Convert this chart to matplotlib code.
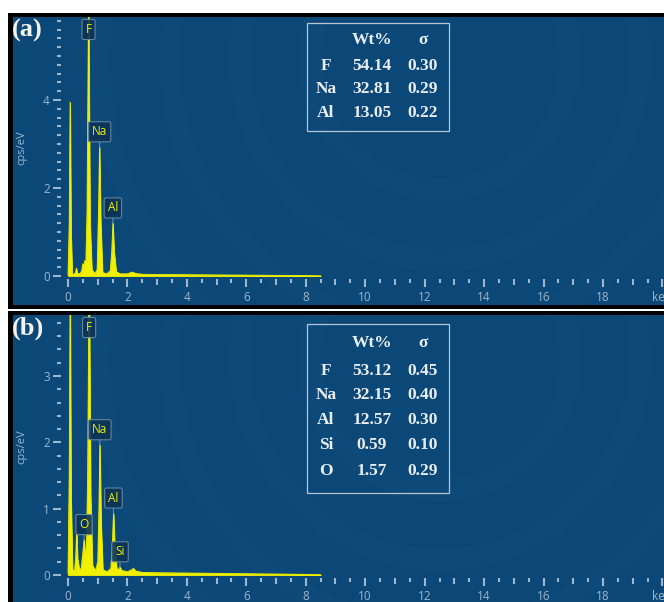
import matplotlib
matplotlib.use("Agg")
import matplotlib.pyplot as plt
from matplotlib.patches import Rectangle, Circle
import numpy as np

W, H = 664, 602

BG = "#0b4877"
TICK = "#9db6cc"
YELLOW = "#f0f000"
TXT = "#e9eef3"

# spectrum (a): energy in keV, counts in cps/eV
energy_a = [0.00, 0.04, 0.07, 0.10, 0.14, 0.20, 0.25, 0.28, 0.31, 0.40, 0.46, 0.50,
            0.53, 0.56, 0.60, 0.64, 0.69, 0.74, 0.80, 0.90, 0.98, 1.03, 1.06, 1.10,
            1.16, 1.30, 1.42, 1.47, 1.51, 1.55, 1.62, 1.75, 2.00, 2.12, 2.18, 2.26,
            2.50, 3.00, 4.00, 5.00, 6.00, 7.00, 8.00, 8.50]
cps_a = [0.02, 1.20, 3.95, 1.00, 0.05, 0.04, 0.08, 0.18, 0.06, 0.05, 0.12, 0.28,
         0.18, 0.35, 0.30, 1.50, 6.20, 1.20, 0.15, 0.05, 0.15, 1.60, 2.93, 1.20,
         0.08, 0.05, 0.12, 0.55, 1.20, 0.55, 0.10, 0.05, 0.05, 0.08, 0.09, 0.06,
         0.04, 0.035, 0.03, 0.025, 0.02, 0.015, 0.01, 0.005]

# spectrum (b)
energy_b = [0.00, 0.04, 0.07, 0.10, 0.15, 0.22, 0.26, 0.29, 0.32, 0.38, 0.44, 0.49,
            0.54, 0.58, 0.62, 0.66, 0.71, 0.76, 0.82, 0.92, 1.00, 1.04, 1.07, 1.11,
            1.17, 1.32, 1.44, 1.49, 1.53, 1.57, 1.64, 1.70, 1.75, 1.80, 2.00, 2.14,
            2.20, 2.28, 2.50, 3.00, 4.00, 5.00, 6.00, 7.00, 8.00, 8.50]
cps_b = [0.02, 1.50, 4.30, 1.20, 0.08, 0.06, 0.30, 0.66, 0.25, 0.08, 0.10, 0.30,
         0.53, 0.30, 0.40, 1.50, 4.60, 1.20, 0.15, 0.06, 0.20, 1.00, 1.96, 0.80,
         0.08, 0.05, 0.10, 0.45, 0.93, 0.45, 0.10, 0.08, 0.12, 0.07, 0.05, 0.08,
         0.10, 0.06, 0.04, 0.035, 0.03, 0.025, 0.02, 0.015, 0.01, 0.005]

peaks_a = ["F", "Na", "Al"]
peak_kev_a = [0.69, 1.06, 1.51]
peaks_b = ["O", "F", "Na", "Al", "Si"]
peak_kev_b = [0.54, 0.71, 1.07, 1.53, 1.75]

table_el_a = ["F", "Na", "Al"]
table_wt_a = ["54.14", "32.81", "13.05"]
table_sig_a = ["0.30", "0.29", "0.22"]

table_el_b = ["F", "Na", "Al", "Si", "O"]
table_wt_b = ["53.12", "32.15", "12.57", "0.59", "1.57"]
table_sig_b = ["0.45", "0.40", "0.30", "0.10", "0.29"]

xticks = list(range(0, 21, 2))
xtick_labels = [str(v) for v in xticks[:-1]] + ["keV"]
yticks_a = [0, 2, 4]
yticks_b = [0, 1, 2, 3]


def rect(x0, y0, x1, y1):
    return [x0 / W, 1 - y1 / H, (x1 - x0) / W, (y1 - y0) / H]


def fx(x):
    return x / W


def fy(y):
    return 1 - y / H


def background(fig, fy0, fy1, ring_c):
    frame = fig.add_axes(rect(8, fy0, W, fy1))
    frame.set_facecolor("black")
    frame.set_xticks([])
    frame.set_yticks([])
    for s in frame.spines.values():
        s.set_visible(False)
    y1 = fy1 - 4 if fy1 < H else H
    blue = fig.add_axes(rect(13, fy0 + 4, W, y1))
    blue.set_xlim(13, W)
    blue.set_ylim(y1, fy0 + 4)
    blue.set_axis_off()
    blue.add_patch(Rectangle((13, fy0 + 4), W - 13, y1 - fy0 - 4, color=BG, zorder=0))
    # faint concentric rings of the instrument background
    for r in [130, 200, 270, 340]:
        blue.add_patch(Circle(ring_c, r, fill=False, lw=16, ec="white", alpha=0.015))


def panel(fig, top, bottom, ylim, yticks, energy, cps, labels, label_kev, tag):
    ax = fig.add_axes(rect(61, top, W, bottom))
    ax.set_facecolor("none")
    ax.set_xlim(-7 / 29.72, (W - 68) / 29.72)
    ax.set_ylim(*ylim)
    ax.fill_between(energy, 0, cps, color=YELLOW, lw=0.6, zorder=2)
    ax.plot(energy, cps, color=YELLOW, lw=0.6, zorder=3)

    for s in ax.spines.values():
        s.set_visible(False)
    ax.set_xticks(xticks)
    ax.set_xticklabels(xtick_labels)
    ax.set_xticks(np.arange(0.5, 20.5, 1.0), minor=True)
    ax.set_yticks(yticks)
    ax.set_yticks(np.arange(0, ylim[1], 0.2), minor=True)
    ax.tick_params(which="major", color=TICK, labelcolor=TICK, labelsize=8.5,
                   length=6, width=1.5, pad=2.5, direction="out")
    ax.tick_params(which="minor", color=TICK, length=2.8, width=1.5, direction="out")
    ax.tick_params(axis="y", which="major", pad=2)
    for lab in ax.get_xticklabels() + ax.get_yticklabels():
        lab.set_fontfamily("Open Sans")

    sec = ax.secondary_xaxis("bottom")
    sec.set_xticks(range(1, 21, 2))
    sec.tick_params(color=TICK, length=4.2, width=1.5, labelbottom=False)
    for s in sec.spines.values():
        s.set_visible(False)

    ax.set_ylabel("cps/eV", color=TICK, fontsize=8, fontfamily="Open Sans")
    ax.yaxis.set_label_coords(-0.055, 0.5)

    e = np.array(energy)
    c = np.array(cps)
    for name, kev in zip(labels, label_kev):
        h = c[np.abs(e - kev) < 0.03].max()
        box = dict(boxstyle="round,pad=0.3,rounding_size=0.15", fc="#0c3355",
                   ec="#6d8ca8", lw=0.8, alpha=0.9)
        if h > ylim[1]:
            ax.annotate(name, (kev, ylim[1]), xytext=(0, -9), textcoords="offset points",
                        ha="center", va="center", color=YELLOW, fontsize=8.5,
                        fontfamily="Open Sans", bbox=box, annotation_clip=False, zorder=5)
        else:
            ax.annotate(name, (kev, h), xytext=(0, 11), textcoords="offset points",
                        ha="center", va="center", color=YELLOW, fontsize=8.5,
                        fontfamily="Open Sans", bbox=box, zorder=5,
                        arrowprops=dict(arrowstyle="-", color="#6d8ca8", lw=0.8,
                                        shrinkA=0, shrinkB=0))

    fig.text(fx(12), fy(top + 13), tag, color="#f2f2f2", fontsize=19,
             fontweight="bold", fontfamily="Liberation Serif", va="center", ha="left")
    return ax


def table(fig, y0, y1, rows_y, head_y, el, wt, sig):
    fig.add_artist(Rectangle((fx(307), fy(y1)), fx(449) - fx(307), fy(y0) - fy(y1),
                             transform=fig.transFigure, fill=False, ec="#b8c6d4", lw=0.9))
    kw = dict(color=TXT, fontsize=12.5, fontweight="bold", fontfamily="Liberation Serif",
              ha="center", va="center")
    fig.text(fx(372), fy(head_y), "Wt%", **kw)
    fig.text(fx(423), fy(head_y), "σ", **kw)
    for y, a, b, c in zip(rows_y, el, wt, sig):
        fig.text(fx(326), fy(y), a, **kw)
        fig.text(fx(372), fy(y), b, **kw)
        fig.text(fx(423), fy(y), c, **kw)


fig = plt.figure(figsize=(W / 100, H / 100), dpi=100)
fig.patch.set_facecolor("white")

background(fig, 13, 309, (440, 60))
background(fig, 311, H, (440, 360))

panel(fig, 17, 279, (-0.068, 5.886), yticks_a, energy_a, cps_a, peaks_a, peak_kev_a, "(a)")
panel(fig, 315, 578, (-0.045, 3.92), yticks_b, energy_b, cps_b, peaks_b, peak_kev_b, "(b)")

table(fig, 23, 131, [66, 89, 113], 40, table_el_a, table_wt_a, table_sig_a)
table(fig, 324, 493, [371, 395, 420, 445, 471], 343, table_el_b, table_wt_b, table_sig_b)

fig.savefig("out.png", dpi=100)
